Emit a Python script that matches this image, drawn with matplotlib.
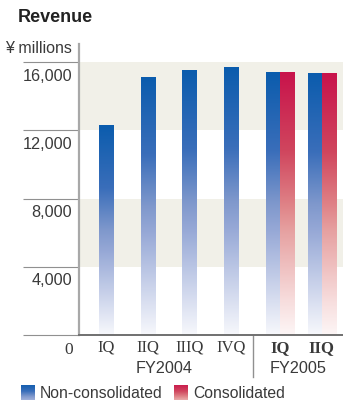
import matplotlib
matplotlib.use("Agg")
import matplotlib.pyplot as plt
import numpy as np
from matplotlib.colors import LinearSegmentedColormap

plt.rcParams['font.family'] = ['Liberation Sans', 'DejaVu Sans']

# data (¥ millions)
quarters = ['IQ', 'IIQ', 'IIIQ', 'IVQ', 'IQ', 'IIQ']
fiscal_years = ['FY2004', 'FY2005']
non_consolidated = [12300, 15100, 15500, 15650, 15400, 15300]
consolidated = [None, None, None, None, 15400, 15300]
y_ticks = [0, 4000, 8000, 12000, 16000]

blue_cmap = LinearSegmentedColormap.from_list('blue', [
    (0.0, '#0b5cad'), (0.3, '#3a6eba'), (0.5, '#7f98cc'), (0.6, '#96a8d6'),
    (0.87, '#d8def0'), (1.0, '#f7f8fc')])
red_cmap = LinearSegmentedColormap.from_list('red', [
    (0.0, '#c8134b'), (0.3, '#d0465e'), (0.5, '#df8186'), (0.6, '#e6a0a0'),
    (0.87, '#f7dddd'), (1.0, '#fdf6f6')])
grad = np.linspace(0, 1, 256).reshape(-1, 1)

fig = plt.figure(figsize=(3.43, 4.02), dpi=100)
ax = fig.add_axes([79 / 343, 66 / 402, 264 / 343, 291 / 402])

x = np.arange(len(quarters))
w = 0.336

# background bands
ax.axhspan(4000, 8000, color='#f1f0e8', zorder=0, lw=0)
ax.axhspan(12000, 16000, color='#f1f0e8', zorder=0, lw=0)


def gradient_bars(bars, cmap):
    for b in bars:
        x0, h, bw = b.get_x(), b.get_height(), b.get_width()
        ax.imshow(grad, cmap=cmap, aspect='auto', extent=(x0, x0 + bw, 0, h),
                  origin='upper', zorder=2, interpolation='bicubic')


bars_nc = ax.bar(x, non_consolidated, width=w, color='none', zorder=2)
gradient_bars(bars_nc, blue_cmap)
cx = [i for i, v in enumerate(consolidated) if v is not None]
cv = [v for v in consolidated if v is not None]
bars_c = ax.bar(np.array(cx) + w, cv, width=w, color='none', zorder=2)
gradient_bars(bars_c, red_cmap)
ax.set_xlim(-0.647, 5.683)
ax.set_ylim(0, 17055)

# spines and ticks
for s in ['top', 'right']:
    ax.spines[s].set_visible(False)
ax.spines['left'].set_color('#a8a8a8')
ax.spines['left'].set_linewidth(1.6)
ax.spines['bottom'].set_color('#707070')
ax.spines['bottom'].set_linewidth(1.4)
ax.set_xticks([])
ax.set_yticks(y_ticks)
ax.set_yticklabels([])
ax.tick_params(axis='y', length=40.5, width=0.8, color='#909090')

txt = '#3a3a3a'
for v in y_ticks[1:]:
    ax.annotate(f'{v:,}', xy=(0, v), xycoords=('axes fraction', 'data'),
                xytext=(-5, -4), textcoords='offset points',
                ha='right', va='top', fontsize=11.7, color=txt)
ax.annotate('0', xy=(0, 0), xycoords=('axes fraction', 'data'),
            xytext=(-4.5, -4), textcoords='offset points', ha='right', va='top',
            fontsize=12.5, color=txt, family='Liberation Serif')

# quarter labels
tr = ax.get_xaxis_transform()
for i, q in enumerate(quarters):
    bold = i >= 4
    xp = i + (w / 2 if bold else 0)
    ax.text(xp, -0.041, q, transform=tr, ha='center', va='center',
            fontsize=12, color=txt, family='Liberation Serif',
            fontweight='bold' if bold else 'normal')
ax.text(1.4, -0.11, fiscal_years[0], transform=tr, ha='center', va='center',
        fontsize=11.7, color=txt)
ax.text(4.6, -0.11, fiscal_years[1], transform=tr, ha='center', va='center',
        fontsize=11.7, color=txt)
ax.plot([3.52, 3.52], [0, -0.144], transform=tr, color='#909090', lw=1,
        clip_on=False)

# titles
fig.text(18 / 343, 1 - 18 / 402, 'Revenue', ha='left', va='center',
         fontsize=13, fontweight='bold', color='#222222')
fig.text(72 / 343, 1 - 49 / 402, '¥ millions', ha='right', va='center',
         fontsize=11.5, color=txt)

# legend
for x0, cmap, label in [(21, blue_cmap, 'Non-consolidated'),
                        (174, red_cmap, 'Consolidated')]:
    lax = fig.add_axes([x0 / 343, 1 / 402, 14 / 343, 15 / 402])
    lax.imshow(grad, cmap=cmap, aspect='auto', vmin=-0.1, vmax=1.6)
    lax.axis('off')
    fig.text((x0 + 19) / 343, 1 - 394 / 402, label, ha='left', va='center',
             fontsize=11.3, color=txt)

fig.savefig('out.png', dpi=100)
